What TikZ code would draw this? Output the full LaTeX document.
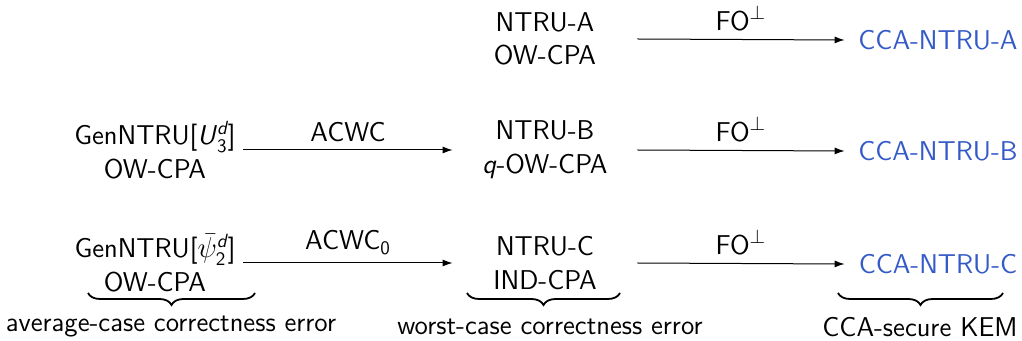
\documentclass[tikz,border=0pt]{standalone}
\usepackage{amsmath}
\usetikzlibrary{decorations.pathreplacing,arrows.meta}
\renewcommand\familydefault{\sfdefault}
\definecolor{kemblue}{RGB}{52,90,200}
\begin{document}
\begin{tikzpicture}[x=0.5pt,y=-0.5pt,
  every node/.style={font=\fontsize{13.6}{16.8}\selectfont, inner sep=0pt, align=center},
  leftn/.style={minimum width=88pt},
  midn/.style={minimum width=92pt},
  kem/.style={text=kemblue, minimum width=93pt},
  conn/.style={-{Latex[length=5pt,width=3.5pt]}, line width=0.5pt},
  lbl/.style={above=4pt},
  brc/.style={decorate, decoration={brace, mirror, amplitude=6pt}, line width=0.9pt}]
\useasboundingbox (0,0) rectangle (1022,341);
% left column
\node[leftn] (gB) at (155,150) {GenNTRU[\textit{U}$^{\text{\itshape d}}_{\text{3}}$]\\OW-CPA};
\node[leftn] (gC) at (155,263) {GenNTRU[$\bar{\psi}^{\text{\itshape d}}_{\text{2}}$]\\OW-CPA};
% middle column
\node[midn] (mA) at (545,39) {NTRU-A\\OW-CPA};
\node[midn] (mB) at (545,150) {NTRU-B\\\textit{q}-OW-CPA};
\node[midn] (mC) at (545,263) {NTRU-C\\IND-CPA};
% right column
\node[kem] (rA) at (938,40) {CCA-NTRU-A};
\node[kem] (rB) at (938,151) {CCA-NTRU-B};
\node[kem] (rC) at (938,264) {CCA-NTRU-C};
% connectors
\draw[conn] (gB.east) -- node[lbl]{ACWC} (mB.west);
\draw[conn] (gC.east) -- node[lbl]{ACWC$_{\text{0}}$} (mC.west);
\draw[conn] (mA.east) -- node[lbl]{FO$^{\perp}$} (rA.west);
\draw[conn] (mB.east) -- node[lbl]{FO$^{\perp}$} (rB.west);
\draw[conn] (mC.east) -- node[lbl]{FO$^{\perp}$} (rC.west);
% braces
\node (tA) at (171,327) {average-case correctness error};
\node (tM) at (550,327) {worst-case correctness error};
\node (tR) at (920,327) {CCA-secure KEM};
\draw[brc] (88,293) -- (255,293);
\draw[brc] (467,293) -- (620,293);
\draw[brc] (838,293) -- (1003,293);
\end{tikzpicture}
\end{document}
